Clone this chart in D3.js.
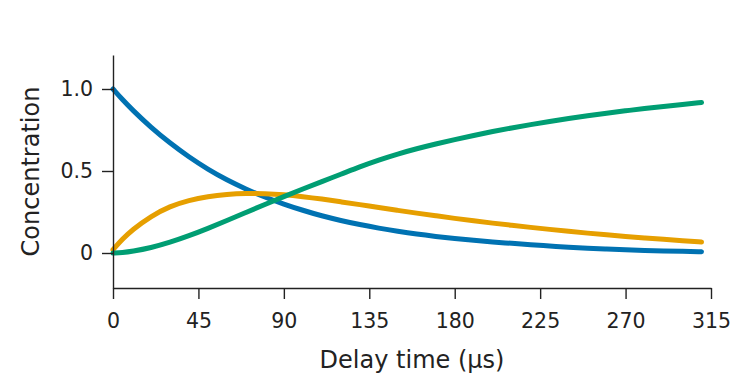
<!DOCTYPE html>
<html>
<head>
<meta charset="utf-8">
<script src="https://cdn.jsdelivr.net/npm/d3@7"></script>
<style>
  html, body { margin: 0; padding: 0; background: #fff; }
  svg { display: block; }
  text { font-family: "DejaVu Sans", sans-serif; fill: #222; }
</style>
</head>
<body>
<svg id="chart" width="738" height="381"></svg>
<script>
// ---- data ----
const times = [0, 5, 10, 20, 30, 40, 50, 60, 70, 80, 90, 100, 110, 120, 130, 140, 150, 160,
  170, 180, 190, 200, 210, 220, 230, 240, 250, 260, 270, 280, 290, 300, 310];
const blueSeries = [1.00, 0.935, 0.875, 0.765, 0.67, 0.585, 0.51, 0.445, 0.39, 0.34, 0.298, 0.26,
  0.226, 0.198, 0.173, 0.151, 0.132, 0.115, 0.101, 0.088, 0.077, 0.067, 0.059, 0.050, 0.043,
  0.035, 0.029, 0.024, 0.019, 0.015, 0.012, 0.010, 0.008];
const orangeSeries = [0.02, 0.085, 0.14, 0.225, 0.285, 0.322, 0.345, 0.358, 0.364, 0.363, 0.356,
  0.344, 0.329, 0.312, 0.295, 0.277, 0.26, 0.243, 0.227, 0.211, 0.196, 0.182, 0.169, 0.156,
  0.144, 0.132, 0.121, 0.111, 0.101, 0.092, 0.083, 0.075, 0.067];
const greenSeries = [0, 0.003, 0.01, 0.032, 0.065, 0.105, 0.15, 0.198, 0.247, 0.296, 0.344, 0.39,
  0.436, 0.48, 0.526, 0.567, 0.604, 0.636, 0.665, 0.692, 0.717, 0.741, 0.763, 0.783, 0.802,
  0.82, 0.837, 0.853, 0.867, 0.881, 0.894, 0.906, 0.918];
const xTicks = [0, 45, 90, 135, 180, 225, 270, 315];
const yTicks = [0, 0.5, 1.0];
const yTickLabels = ["0", "0.5", "1.0"];
const xTitle = "Delay time (μs)";
const yTitle = "Concentration";

const seriesList = [
  { values: blueSeries, color: "#0072B2" },
  { values: orangeSeries, color: "#E69F00" },
  { values: greenSeries, color: "#009E73" }
];

// ---- layout ----
const svg = d3.select("#chart");
const mLeft = 113, mRight = 711, mTop = 55, mBottom = 288;

const x = d3.scaleLinear().domain([0, 315]).range([mLeft, mRight]);
const y = d3.scaleLinear().domain([-0.2134, 1.2073]).range([mBottom, mTop]);

const line = d3.line()
  .x((d, i) => x(times[i]))
  .y(d => y(d))
  .curve(d3.curveBasis);

svg.append("g").selectAll("path")
  .data(seriesList)
  .join("path")
  .attr("d", s => line(s.values))
  .attr("fill", "none")
  .attr("stroke", s => s.color)
  .attr("stroke-width", 5)
  .attr("stroke-linecap", "round")
  .attr("stroke-linejoin", "round");

// x axis
const xAxis = svg.append("g")
  .attr("transform", `translate(0,${mBottom})`)
  .call(d3.axisBottom(x).tickValues(xTicks).tickSize(11).tickSizeOuter(0).tickPadding(14));
xAxis.select(".domain").attr("stroke", "#222").attr("stroke-width", 1.4);
xAxis.selectAll(".tick line").attr("stroke", "#222").attr("stroke-width", 1.4);
xAxis.selectAll(".tick text").style("font-size", "20.5px").attr("fill", "#222");

// y axis
const yAxis = svg.append("g")
  .attr("transform", `translate(${mLeft},0)`)
  .call(d3.axisLeft(y).tickValues(yTicks).tickSize(11).tickSizeOuter(0).tickPadding(9)
    .tickFormat((d, i) => yTickLabels[i]));
yAxis.select(".domain").attr("stroke", "#222").attr("stroke-width", 1.4);
yAxis.selectAll(".tick line").attr("stroke", "#222").attr("stroke-width", 1.4);
yAxis.selectAll(".tick text").style("font-size", "20.5px").attr("fill", "#222");

// titles
svg.append("text")
  .attr("x", (mLeft + mRight) / 2)
  .attr("y", 368)
  .attr("text-anchor", "middle")
  .style("font-size", "24px")
  .text(xTitle);

svg.append("text")
  .attr("transform", `translate(39,${(mTop + mBottom) / 2}) rotate(-90)`)
  .attr("text-anchor", "middle")
  .style("font-size", "24px")
  .text(yTitle);
</script>
</body>
</html>
